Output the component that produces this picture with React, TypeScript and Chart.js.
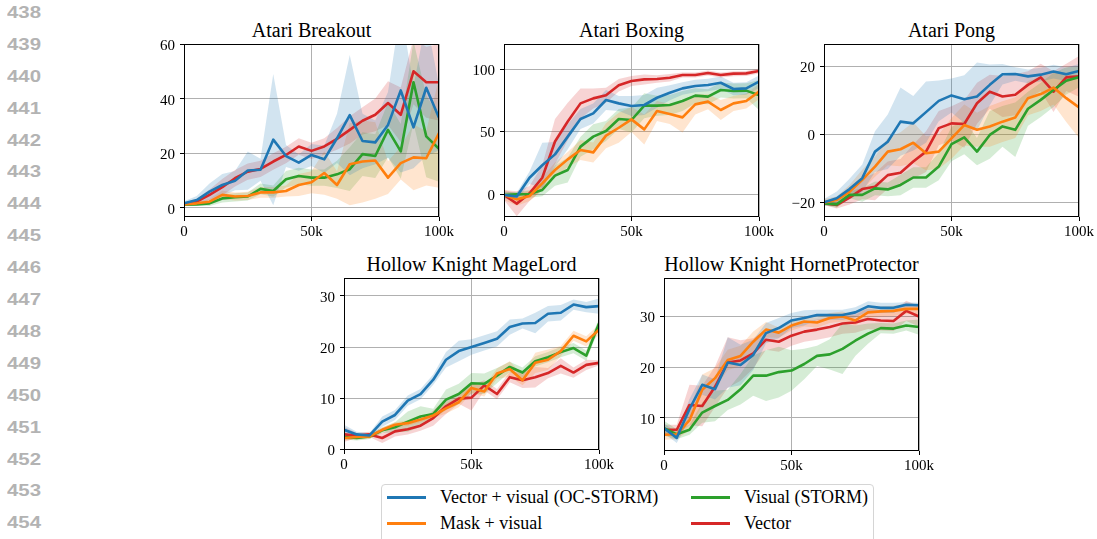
import React, { useEffect, useRef } from "react";
import { Chart, registerables } from "chart.js";

Chart.register(...registerables);

// ---------------- data ----------------
const STEPS = [0, 5000, 10000, 15000, 20000, 25000, 30000, 35000, 40000, 45000, 50000, 55000, 60000, 65000, 70000, 75000, 80000, 85000, 90000, 95000, 100000];
const X_TICKS = [0, 50000, 100000];
const X_TICK_LABELS = ["0", "50k", "100k"];
const SERIES_LABELS = ["Vector + visual (OC-STORM)", "Mask + visual", "Visual (STORM)", "Vector"];
const LINE_NUMBERS = ["438", "439", "440", "441", "442", "443", "444", "445", "446", "447", "448", "449", "450", "451", "452", "453", "454"];

// Atari Breakout
const breakoutVecVis = [1.7, 2.9, 6, 8.4, 10, 13.7, 14, 25, 19, 16.6, 19.4, 17.8, 25.5, 34, 24.5, 24, 30.4, 43, 29.5, 44, 33];
const breakoutVecVisStd = [0.8, 1.5, 3, 4, 3.5, 7, 4, 24, 4, 3, 4, 5, 9, 22, 10, 8, 12, 30, 15, 25, 12];
const breakoutMask = [1.3, 1.7, 2.3, 4.8, 4.2, 4.4, 5.7, 5.7, 6.2, 8.4, 9.4, 12.8, 8.4, 16, 17, 17.4, 11.1, 16.4, 18.5, 18.2, 27.4];
const breakoutMaskStd = [0.5, 0.5, 1, 1.5, 1.5, 1.5, 2, 2, 2, 4, 4, 8, 5, 15, 15, 14, 6, 6, 12, 10, 20];
const breakoutVisual = [1.2, 1.3, 1.7, 3.5, 3.9, 4.2, 7, 6.2, 10.5, 11.7, 11.1, 11.1, 12.3, 14.2, 19.7, 19, 28.6, 20.7, 46, 26.2, 21.6];
const breakoutVisualStd = [0.5, 0.5, 1, 1.5, 1.5, 1.5, 2, 2, 3, 3, 3, 3, 5, 8, 8, 8, 10, 10, 15, 15, 12];
const breakoutVector = [1.5, 2.3, 4.8, 7.6, 10.9, 13.3, 14.3, 17, 19.4, 22.5, 20.9, 22.5, 25.3, 28.6, 31.9, 34.1, 38.4, 34.1, 50, 46, 46];
const breakoutVectorStd = [0.5, 1, 2, 3, 3, 3, 3, 3, 3, 3, 3, 3, 4, 5, 5, 6, 8, 10, 12, 13, 14];
const breakoutYTicks = [0, 20, 40, 60];
const breakoutYLabels = ["0", "20", "40", "60"];

// Atari Boxing
const boxingVecVis = [-0.8, -2, 13, 23, 31.7, 45.9, 60, 64.5, 75.2, 72.5, 70.4, 71.2, 77, 81, 84.5, 86.4, 87.2, 89, 84, 84.5, 89.9];
const boxingVecVisStd = [3, 3, 5, 18, 10, 10, 8, 8, 8, 6, 8, 8, 8, 6, 5, 5, 5, 5, 5, 5, 5];
const boxingMask = [-0.8, -4.3, -1.6, 8.5, 19.2, 27.7, 35.2, 33.3, 46.7, 53, 59.7, 51.7, 66.4, 64, 61.3, 71.7, 73.9, 67.2, 72.5, 74.4, 81.9];
const boxingMaskStd = [4, 5, 4, 5, 6, 6, 8, 8, 10, 12, 10, 12, 8, 8, 12, 8, 6, 8, 6, 6, 6];
const boxingVisual = [-0.8, -0.3, 0, 3.2, 14.7, 19.2, 37.9, 45.9, 50.4, 60, 59.2, 70.7, 70.7, 71.2, 74.4, 78.7, 77.9, 83.2, 82.4, 82.7, 79.2];
const boxingVisualStd = [2, 2, 3, 5, 8, 10, 8, 10, 8, 8, 10, 10, 8, 8, 8, 6, 6, 6, 6, 6, 12];
const boxingVector = [-0.8, -7.7, 0.5, 13, 42, 58, 72.5, 76.5, 79, 87, 90.4, 91.7, 92, 93, 95.2, 95.2, 96.8, 95.2, 96.3, 96.5, 98.4];
const boxingVectorStd = [4, 10, 6, 10, 18, 15, 12, 8, 6, 5, 4, 4, 3, 3, 2, 2, 2, 2, 2, 2, 2];
const boxingYTicks = [0, 50, 100];
const boxingYLabels = ["0", "50", "100"];

// Atari Pong
const pongVecVis = [-20, -18.8, -16.1, -12.9, -5.1, -2.2, 3.7, 3.2, 6.5, 9.8, 11.4, 10.3, 11.1, 14.5, 17.6, 17.7, 17, 17.5, 18.4, 17.6, 18.6];
const pongVecVisStd = [1, 2, 3, 4, 6, 8, 10, 8, 9, 6, 5, 7, 10, 6, 3, 2, 2, 2, 2, 2, 2];
const pongMask = [-20, -19.3, -16.9, -13.4, -9.5, -5.1, -4.4, -2.5, -5.6, -5.1, -1.2, 2.7, 1.3, 2.3, 3.7, 4.9, 10.6, 11.8, 13.7, 10.6, 7.9];
const pongMaskStd = [1, 1, 2, 3, 3, 4, 5, 6, 5, 5, 6, 6, 5, 6, 6, 6, 5, 5, 5, 7, 9];
const pongVisual = [-20.3, -20.6, -17.8, -17.8, -15.9, -16.2, -14.9, -12.7, -12.7, -9.5, -2.9, -0.9, -5.1, -0.2, 2.3, 1.3, 7.5, 10.1, 13, 15.7, 16.8];
const pongVisualStd = [0.5, 1, 1, 2, 2, 2, 3, 3, 3, 4, 5, 5, 4, 7, 6, 8, 5, 5, 5, 4, 3];
const pongVector = [-20.3, -20.8, -18.6, -16.1, -15.4, -12, -11.3, -8, -5.1, 1.8, 3.2, 3, 9.1, 12.5, 11.1, 11.6, 14.5, 16.7, 12.5, 16.7, 17];
const pongVectorStd = [0.5, 1, 2, 3, 4, 4, 4, 5, 6, 5, 5, 7, 6, 5, 6, 6, 4, 4, 6, 4, 6];
const pongYTicks = [-20, 0, 20];
const pongYLabels = ["\u221220", "0", "20"];

// Hollow Knight MageLord
const mageVecVis = [3.8, 2.9, 2.7, 5.4, 6.7, 9.5, 10.8, 13.6, 17.5, 19.2, 20, 20.8, 21.6, 23.9, 24.6, 24.7, 26.5, 26.7, 28.3, 27.8, 28];
const mageVecVisStd = [1, 0.5, 0.5, 1, 1, 1, 1, 1, 1.5, 2, 1.5, 1.5, 1.5, 1.5, 1, 2, 1.5, 1.5, 1, 1, 1.5];
const mageMask = [2.2, 2.4, 2.5, 3.8, 4.8, 5.1, 5.8, 6.6, 8, 9.2, 12, 11.3, 14.8, 15.7, 13.5, 16.9, 17.5, 19.2, 22.2, 21.1, 23.4];
const mageMaskStd = [0.5, 0.5, 0.5, 0.5, 0.5, 0.5, 0.5, 0.5, 1, 1, 1, 1, 1, 1.5, 1, 2, 2, 1, 1, 1, 1];
const mageVisual = [2.4, 2.2, 2.5, 3.7, 4.3, 5.4, 6.4, 6.9, 9.7, 10.8, 12.9, 12.8, 14.4, 16.1, 15, 17.2, 18, 19, 19.8, 18.3, 24.6];
const mageVisualStd = [0.5, 0.5, 0.5, 0.5, 1, 2, 2, 1, 2, 2, 2, 2, 1.5, 1, 1, 1, 1, 1, 1, 1, 1];
const mageVector = [2.9, 2.7, 2.9, 2.2, 3.5, 3.9, 4.6, 6.1, 8.4, 9.9, 10.1, 12.5, 10.8, 14.1, 13.5, 14.1, 14.9, 16.3, 15, 16.5, 16.9];
const mageVectorStd = [1.5, 0.5, 0.5, 1, 1, 1, 1, 1.5, 1.5, 1, 2.5, 1, 1, 1, 1.5, 2, 1, 1.5, 1, 1, 0.5];
const mageYTicks = [0, 10, 20, 30];
const mageYLabels = ["0", "10", "20", "30"];

// Hollow Knight HornetProtector
const hornetVecVis = [7.9, 6, 11.7, 16.5, 15.6, 20.9, 20.4, 22.4, 26.7, 27.7, 29.2, 29.7, 30.3, 30.3, 30.3, 30.8, 32, 31.7, 31.7, 32.3, 32.2];
const hornetVecVisStd = [1, 1, 2, 2, 2, 5, 4, 3, 2, 2, 1.5, 1.5, 1, 1, 1, 1, 1, 1, 1, 0.5, 0.5];
const hornetMask = [6.6, 6.7, 9.5, 15.5, 17.8, 21.4, 22.2, 25, 27.4, 26.8, 28.2, 29, 28.8, 29.7, 30, 29.2, 30.8, 31, 31.1, 31.5, 31.5];
const hornetMaskStd = [1, 1, 2, 3, 2, 2, 2, 2, 1.5, 1, 1, 1, 1, 1, 1, 1, 1, 1, 1, 1, 1];
const hornetVisual = [7.9, 6.7, 7.6, 11, 12.3, 13.5, 15.6, 18.3, 18.3, 19, 19.3, 20.6, 22.2, 22.5, 23.6, 25.2, 26.6, 27.7, 27.6, 28.2, 27.9];
const hornetVisualStd = [1.5, 1, 1, 2, 3, 2, 3, 4, 5, 5, 4, 3, 2, 3, 5, 3, 2, 1, 1, 1, 1.5];
const hornetVector = [7.6, 7.6, 12.5, 12.3, 16.1, 20.9, 21.3, 22.7, 25.4, 25, 26.2, 27, 27.4, 27.9, 28.6, 28.8, 29.5, 29.2, 29.1, 31.1, 30];
const hornetVectorStd = [1, 1, 4, 4, 4, 5, 4, 3, 2, 2, 2, 2, 2, 2, 2, 2, 2, 2, 2, 2, 2];
const hornetYTicks = [10, 20, 30];
const hornetYLabels = ["10", "20", "30"];

// ---------------- styles ----------------
const COLORS = ["#1f77b4", "#ff7f0e", "#2ca02c", "#d62728"];
const BAND_COLORS = ["rgba(31,119,180,0.2)", "rgba(255,127,14,0.2)", "rgba(44,160,44,0.2)", "rgba(214,39,40,0.2)"];
const SERIF = "'Liberation Serif', 'Times New Roman', Times, serif";
const SANS = "'Liberation Sans', Arial, Helvetica, sans-serif";

type Series = { mean: number[]; std: number[] };
type PanelCfg = {
  title: string;
  rect: { l: number; t: number; w: number; h: number };
  yMin: number;
  yMax: number;
  yTicks: number[];
  yLabels: string[];
  series: Series[];
};

const PANELS: PanelCfg[] = [
  {
    title: "Atari Breakout",
    rect: { l: 184, t: 44, w: 255, h: 173 },
    yMin: -3.3, yMax: 60, yTicks: breakoutYTicks, yLabels: breakoutYLabels,
    series: [
      { mean: breakoutVecVis, std: breakoutVecVisStd },
      { mean: breakoutMask, std: breakoutMaskStd },
      { mean: breakoutVisual, std: breakoutVisualStd },
      { mean: breakoutVector, std: breakoutVectorStd },
    ],
  },
  {
    title: "Atari Boxing",
    rect: { l: 504, t: 44, w: 255, h: 173 },
    yMin: -18.4, yMax: 120, yTicks: boxingYTicks, yLabels: boxingYLabels,
    series: [
      { mean: boxingVecVis, std: boxingVecVisStd },
      { mean: boxingMask, std: boxingMaskStd },
      { mean: boxingVisual, std: boxingVisualStd },
      { mean: boxingVector, std: boxingVectorStd },
    ],
  },
  {
    title: "Atari Pong",
    rect: { l: 824, t: 44, w: 255, h: 173 },
    yMin: -24.3, yMax: 26.5, yTicks: pongYTicks, yLabels: pongYLabels,
    series: [
      { mean: pongVecVis, std: pongVecVisStd },
      { mean: pongMask, std: pongMaskStd },
      { mean: pongVisual, std: pongVisualStd },
      { mean: pongVector, std: pongVectorStd },
    ],
  },
  {
    title: "Hollow Knight MageLord",
    rect: { l: 344, t: 278, w: 255, h: 172 },
    yMin: -0.15, yMax: 33.5, yTicks: mageYTicks, yLabels: mageYLabels,
    series: [
      { mean: mageVecVis, std: mageVecVisStd },
      { mean: mageMask, std: mageMaskStd },
      { mean: mageVisual, std: mageVisualStd },
      { mean: mageVector, std: mageVectorStd },
    ],
  },
  {
    title: "Hollow Knight HornetProtector",
    rect: { l: 664, t: 278, w: 255, h: 173 },
    yMin: 3.4, yMax: 37.6, yTicks: hornetYTicks, yLabels: hornetYLabels,
    series: [
      { mean: hornetVecVis, std: hornetVecVisStd },
      { mean: hornetMask, std: hornetMaskStd },
      { mean: hornetVisual, std: hornetVisualStd },
      { mean: hornetVector, std: hornetVectorStd },
    ],
  },
];

const PADL = 60, PADT = 14, PADR = 24, PADB = 30;

const framePlugin = {
  id: "frame",
  afterDatasetsDraw(chart: any) {
    const { ctx, chartArea } = chart;
    const l = Math.round(chartArea.left), t = Math.round(chartArea.top);
    const r = Math.round(chartArea.right), b = Math.round(chartArea.bottom);
    ctx.save();
    ctx.strokeStyle = "#000";
    ctx.lineWidth = 1;
    ctx.strokeRect(l + 0.5, t + 0.5, r - l - 1, b - t - 1);
    ctx.restore();
  },
};

function Panel({ p }: { p: PanelCfg }) {
  const ref = useRef<HTMLCanvasElement>(null);
  const cw = p.rect.w + PADL + PADR;
  const ch = p.rect.h + PADT + PADB;

  useEffect(() => {
    if (!ref.current) return;
    const datasets: any[] = [];
    p.series.forEach((s, i) => {
      const loIdx = datasets.length;
      datasets.push({
        data: STEPS.map((x, j) => ({ x, y: s.mean[j] - s.std[j] })),
        borderWidth: 0, borderColor: "rgba(0,0,0,0)", pointRadius: 0, fill: false, order: 20 + i,
      });
      datasets.push({
        data: STEPS.map((x, j) => ({ x, y: s.mean[j] + s.std[j] })),
        borderWidth: 0, borderColor: "rgba(0,0,0,0)", backgroundColor: BAND_COLORS[i],
        pointRadius: 0, fill: loIdx, order: 20 + i,
      });
    });
    p.series.forEach((s, i) => {
      datasets.push({
        label: SERIES_LABELS[i],
        data: STEPS.map((x, j) => ({ x, y: s.mean[j] })),
        borderColor: COLORS[i], borderWidth: 2.6, pointRadius: 0, fill: false,
        borderJoinStyle: "round", borderCapStyle: "butt", order: i,
      });
    });

    const tickFont = { family: SERIF, size: 15 };
    const chart = new Chart(ref.current, {
      type: "line",
      data: { datasets },
      plugins: [framePlugin],
      options: {
        responsive: false,
        maintainAspectRatio: false,
        animation: false,
        events: [],
        layout: { padding: { left: 0, top: PADT, right: PADR, bottom: 0 } },
        plugins: { legend: { display: false }, tooltip: { enabled: false }, title: { display: false } },
        scales: {
          x: {
            type: "linear",
            min: 0,
            max: 100000,
            afterBuildTicks: (s: any) => { s.ticks = X_TICKS.map((v) => ({ value: v })); },
            afterFit: (s: any) => { s.height = PADB; },
            ticks: {
              autoSkip: false, maxRotation: 0, minRotation: 0, padding: 2,
              color: "#000", font: tickFont,
              callback: (_v: any, i: number) => X_TICK_LABELS[i],
            },
            grid: { color: "#b0b0b0", lineWidth: 1, tickColor: "#000", tickLength: 4, drawTicks: true },
            border: { display: false },
          },
          y: {
            type: "linear",
            min: p.yMin,
            max: p.yMax,
            afterBuildTicks: (s: any) => { s.ticks = p.yTicks.map((v) => ({ value: v })); },
            afterFit: (s: any) => { s.width = PADL; },
            ticks: {
              autoSkip: false, padding: 5, labelOffset: 2, color: "#000", font: tickFont,
              callback: (_v: any, i: number) => p.yLabels[i],
            },
            grid: { color: "#b0b0b0", lineWidth: 1, tickColor: "#000", tickLength: 4, drawTicks: true },
            border: { display: false },
          },
        },
      } as any,
    });
    return () => chart.destroy();
  }, [p]);

  const titleSize = 20;
  return (
    <>
      <div
        style={{
          position: "absolute",
          left: p.rect.l,
          width: p.rect.w,
          top: p.rect.t - 13.5 - 10.1,
          textAlign: "center",
          fontFamily: SERIF,
          fontSize: titleSize,
          lineHeight: `${titleSize}px`,
          color: "#000",
          whiteSpace: "nowrap",
        }}
      >
        {p.title}
      </div>
      <canvas
        ref={ref}
        width={cw}
        height={ch}
        style={{ position: "absolute", left: p.rect.l - PADL, top: p.rect.t - PADT, width: cw, height: ch }}
      />
    </>
  );
}

function LegendItem({ x, y, color, label }: { x: number; y: number; color: string; label: string }) {
  return (
    <>
      <div style={{ position: "absolute", left: x, top: y - 1.5, width: 39, height: 3, background: color }} />
      <div
        style={{
          position: "absolute",
          left: x + 53,
          top: y - 9.1,
          fontFamily: SERIF,
          fontSize: 18,
          lineHeight: "18px",
          color: "#000",
          whiteSpace: "nowrap",
        }}
      >
        {label}
      </div>
    </>
  );
}

export default function App() {
  return (
    <div
      style={{
        position: "absolute",
        left: 0,
        top: 0,
        width: 1097,
        height: 539,
        overflow: "hidden",
        background: "#fff",
      }}
    >
      {LINE_NUMBERS.map((n, i) => (
        <div
          key={n}
          style={{
            position: "absolute",
            left: 7,
            top: 12.2 + i * 31.9 - 8.3,
            fontFamily: SANS,
            fontWeight: "bold",
            fontSize: 17,
            lineHeight: "17px",
            color: "#b3b3b3",
            transform: "scaleX(1.2)",
            transformOrigin: "left top",
          }}
        >
          {n}
        </div>
      ))}
      {PANELS.map((p) => (
        <Panel key={p.title} p={p} />
      ))}
      <div
        style={{
          position: "absolute",
          left: 381,
          top: 484,
          width: 491,
          height: 80,
          border: "1px solid #d5d5d5",
          borderRadius: 4,
          background: "#fff",
        }}
      />
      <LegendItem x={387} y={497.5} color={COLORS[0]} label={SERIES_LABELS[0]} />
      <LegendItem x={387} y={523} color={COLORS[1]} label={SERIES_LABELS[1]} />
      <LegendItem x={691} y={497.5} color={COLORS[2]} label={SERIES_LABELS[2]} />
      <LegendItem x={691} y={523} color={COLORS[3]} label={SERIES_LABELS[3]} />
    </div>
  );
}
